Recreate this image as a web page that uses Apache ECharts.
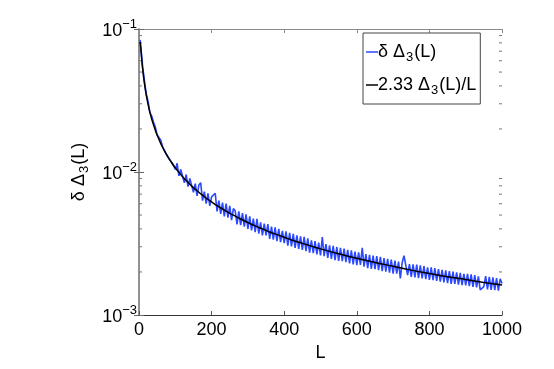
<!DOCTYPE html>
<html>
<head>
<meta charset="utf-8">
<script src="https://cdn.jsdelivr.net/npm/echarts@6/dist/echarts.min.js"></script>
<style>html,body{margin:0;padding:0;background:#fff}#c{width:554px;height:369px}</style>
</head>
<body>
<div id="c"></div>
<script>
// ---- data ----
const xTicks = [0, 200, 400, 600, 800, 1000];
const yTicks = [0.001, 0.01, 0.1];
const minorTickValues = [0.002,0.003,0.004,0.005,0.006,0.007,0.008,0.009,0.02,0.03,0.04,0.05,0.06,0.07,0.08,0.09];

// black fitted curve 2.33 Δ3(L)/L  (L, value x1e-3)
const fitL = [3,5,8,10,15,20,25,30,35,40,45,50,55,60,65,70,75,80,85,90,95,100,110,120,130,140,150,160,170,180,190,200,220,240,260,280,300,320,340,360,380,400,425,450,475,500,550,600,650,700,750,800,850,900,950,1000];
const fitV = [81.1,72.8,59.3,52.7,41.5,34.6,29.7,26.2,23.5,21.4,19.6,18.1,16.9,15.8,14.9,14.1,13.4,12.7,12.1,11.6,11.1,10.7,9.94,9.28,8.72,8.22,7.78,7.39,7.04,6.72,6.43,6.17,5.71,5.32,4.99,4.69,4.43,4.20,4.00,3.81,3.65,3.50,3.32,3.17,3.03,2.90,2.68,2.49,2.33,2.19,2.06,1.95,1.85,1.77,1.69,1.62];

// blue measured δΔ3(L)  (L = 3, then 5..1000 step 5; value x1e-3)
const measL = [3,
  5,10,15,20,25,30,35,40,45,50,
  55,60,65,70,75,80,85,90,95,100,
  105,110,115,120,125,130,135,140,145,150,
  155,160,165,170,175,180,185,190,195,200,
  205,210,215,220,225,230,235,240,245,250,
  255,260,265,270,275,280,285,290,295,300,
  305,310,315,320,325,330,335,340,345,350,
  355,360,365,370,375,380,385,390,395,400,
  405,410,415,420,425,430,435,440,445,450,
  455,460,465,470,475,480,485,490,495,500,
  505,510,515,520,525,530,535,540,545,550,
  555,560,565,570,575,580,585,590,595,600,
  605,610,615,620,625,630,635,640,645,650,
  655,660,665,670,675,680,685,690,695,700,
  705,710,715,720,725,730,735,740,745,750,
  755,760,765,770,775,780,785,790,795,800,
  805,810,815,820,825,830,835,840,845,850,
  855,860,865,870,875,880,885,890,895,900,
  905,910,915,920,925,930,935,940,945,950,
  955,960,965,970,975,980,985,990,995,1000];
const measV = [84,
  75,54.5,43.5,35.0,31.2,26.0,24.6,22.3,20.6,18.2,
  17.8,16.7,15.0,14.9,13.3,13.5,12.2,12.3,11.2,10.4,
  11.5,9.4,10.4,10.1,8.4,9.6,7.9,9.0,8.9,7.2,
  8.3,6.8,8.1,8.4,6.3,7.3,6.0,7.1,5.8,6.7,
  6.9,7.1,5.3,6.3,5.1,6.1,4.9,6.0,4.8,5.8,
  4.6,5.55,5.35,4.3,5.3,4.25,5.15,4.15,5.05,4.0,
  4.9,3.9,4.72,3.8,4.7,3.7,4.45,3.6,4.35,3.6,
  4.32,3.4,4.15,3.37,4.1,3.28,4.0,3.23,3.88,3.18,
  3.85,3.06,3.76,3.02,3.69,2.95,3.61,2.9,3.55,2.85,
  3.52,2.8,3.43,2.73,3.33,2.71,3.29,2.65,3.21,2.61,
  3.5,2.58,3.13,2.51,3.07,2.47,3.04,2.42,2.99,2.39,
  2.95,2.38,2.91,2.34,2.85,2.3,2.83,2.26,2.77,2.23,
  2.74,2.24,2.95,2.18,2.67,2.13,2.63,2.1,2.6,2.09,
  2.58,2.06,2.55,2.03,2.5,2.01,2.47,1.98,2.44,1.95,
  2.4,1.95,2.36,1.8,2.32,2.6,2.55,1.9,2.27,1.85,
  2.26,1.83,2.25,1.81,2.22,1.8,2.2,1.78,2.15,1.76,
  2.15,1.75,2.13,1.73,2.09,1.71,2.07,1.69,2.05,1.67,
  2.03,1.65,2.01,1.65,1.99,1.63,1.97,1.62,1.94,1.61,
  1.94,1.59,1.92,1.57,1.9,1.56,1.86,1.5,1.48,1.58,
  1.87,1.51,1.85,1.5,1.83,1.49,1.81,1.48,1.79,1.66];

const seriesNames = ['meas', 'fit'];
const legendLabels = {
  meas: '{n|δ Δ}{sub|3}{n|(L)}',
  fit: '{n|2.33 Δ}{sub|3}{n|(L)/L}'
};

const FONT = '"Liberation Sans", Arial, Helvetica, sans-serif';
const gridCol = '#8a8a8a';

const chart = echarts.init(document.getElementById('c'), null, {renderer: 'canvas'});

function yFmt(v) {
  const e = Math.round(Math.log10(v));
  return '{b|10}{s|\u2212' + Math.abs(e) + '}';
}

const option = {
  backgroundColor: '#fff',
  animation: false,
  grid: {left: 139, right: 52, top: 29, bottom: 54, containLabel: false},
  legend: {
    data: seriesNames.map(n => ({name: n, icon: 'rect'})),
    orient: 'vertical',
    left: 363, top: 33,
    padding: [7, 4, 7, 3],
    itemGap: 9,
    itemWidth: 12, itemHeight: 1.5,
    borderColor: '#444', borderWidth: 1,
    backgroundColor: '#fff',
    formatter: n => legendLabels[n],
    textStyle: {
      fontFamily: FONT, color: '#000', padding: [0,0,0,-5],
      rich: {
        n: {fontSize: 18, fontFamily: FONT, color: '#000', lineHeight: 22},
        sub: {fontSize: 13, fontFamily: FONT, color: '#000', padding: [11,1,0,1], lineHeight: 22}
      }
    }
  },
  xAxis: [{
    type: 'value', min: 0, max: 1000, interval: 200,
    name: 'L', nameLocation: 'middle', nameGap: 20,
    nameTextStyle: {fontSize: 18, fontFamily: FONT, color: '#000'},
    axisLine: {show: true, lineStyle: {color: '#333', width: 1.2}},
    axisTick: {inside: true, length: 4, lineStyle: {color: '#555'}},
    axisLabel: {fontSize: 18, fontFamily: FONT, color: '#000', margin: 6, formatter: v => String(v)},
    splitLine: {show: false}
  }, {
    type: 'value', min: 0, max: 1000, interval: 200, position: 'top',
    axisLine: {show: true, lineStyle: {color: gridCol, width: 1.2}},
    axisTick: {inside: true, length: 4, lineStyle: {color: gridCol}},
    axisLabel: {show: false}, splitLine: {show: false}
  }],
  yAxis: [{
    type: 'log', logBase: 10, min: 0.001, max: 0.1,
    name: '{n|δ Δ}{sub|3}{n|(L)}', nameLocation: 'middle', nameGap: 44, nameRotate: 90,
    nameTextStyle: {
      fontFamily: FONT, color: '#000',
      rich: {
        n: {fontSize: 18, fontFamily: FONT, color: '#000'},
        sub: {fontSize: 13, fontFamily: FONT, color: '#000', padding: [11,1,0,1]}
      }
    },
    axisLine: {show: true, lineStyle: {color: gridCol, width: 1.5}},
    axisTick: {inside: true, length: 5, lineStyle: {color: '#666'}},
    axisLabel: {
      formatter: yFmt, margin: 2, color: '#000',
      rich: {
        b: {fontSize: 18, fontFamily: FONT, color: '#000', padding: [4,0,0,0]},
        s: {fontSize: 13, fontFamily: FONT, color: '#000', padding: [0,0,10,0]}
      }
    },
    splitLine: {show: false}
  }, {
    type: 'log', logBase: 10, min: 0.001, max: 0.1, position: 'right',
    axisLine: {show: true, lineStyle: {color: gridCol, width: 1.5}},
    axisTick: {inside: true, length: 5, lineStyle: {color: '#666'}},
    axisLabel: {show: false}, splitLine: {show: false}
  }],
  series: [
    {
      name: 'meas', type: 'line', xAxisIndex: 0, yAxisIndex: 0,
      data: measL.map((l, i) => [l, measV[i] / 1000]),
      symbol: 'none', smooth: false,
      lineStyle: {color: '#2b48ff', width: 1.6},
      itemStyle: {color: '#2b48ff'}, z: 2
    },
    {
      name: 'fit', type: 'line', xAxisIndex: 0, yAxisIndex: 0,
      data: fitL.map((l, i) => [l, fitV[i] / 1000]),
      symbol: 'none', smooth: true,
      lineStyle: {color: '#000', width: 1.5},
      itemStyle: {color: '#000'}, z: 3
    },
    {
      name: 'minorTicks', type: 'custom', xAxisIndex: 0, yAxisIndex: 0,
      data: minorTickValues.map(v => [0, v]),
      encode: {x: 0, y: 1},
      silent: true, z: 1,
      renderItem: function (params, api) {
        const v = api.value(1);
        const a = api.coord([0, v]);
        const b = api.coord([1000, v]);
        const st = {stroke: '#777', lineWidth: 1};
        return {
          type: 'group',
          children: [
            {type: 'line', shape: {x1: a[0], y1: a[1], x2: a[0] + 3, y2: a[1]}, style: st},
            {type: 'line', shape: {x1: b[0] - 3, y1: b[1], x2: b[0], y2: b[1]}, style: st}
          ]
        };
      }
    }
  ]
};
chart.setOption(option);
</script>
</body>
</html>
